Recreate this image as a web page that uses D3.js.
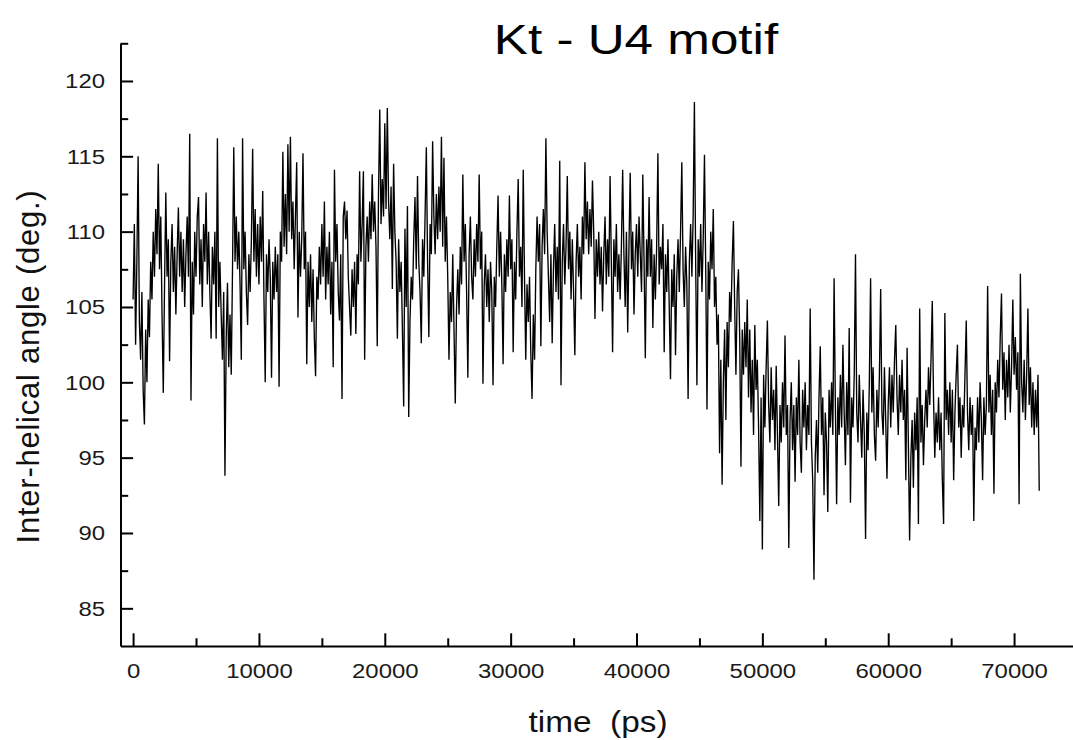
<!DOCTYPE html>
<html>
<head>
<meta charset="utf-8">
<script src="https://cdn.jsdelivr.net/npm/d3@7/dist/d3.min.js"></script>
<style>
  html, body { margin: 0; padding: 0; background: #fff; }
  svg { display: block; background: #fff; }
</style>
</head>
<body>
<svg id="chart" width="1073" height="740"></svg>
<script>
// time between stored frames, ps
const timeStep = 100;

// inter-helical angle (deg.), one row = 1000 ps
// 0 .. 11900 ps
const angle00 = [
    105.5, 110.5, 102.5, 108, 115, 104, 101.5, 106, 99.5, 97.2,
    103.5, 100, 105.5, 103, 108, 105.5, 110, 107, 111.5, 108.5,
    114.5, 107.5, 111, 104.5, 99.3, 106.5, 112.6, 107, 109.5, 101.4,
    108, 110.5, 106, 109, 104.5, 108.5, 111.6, 107, 110, 106,
    109.5, 105, 108.5, 111, 107, 116.5, 98.8, 108, 104.5, 110,
    107, 111, 112.3, 106.5, 109.5, 105, 110.5, 108, 112.6, 106.5,
    110, 106, 102.9, 109, 106.5, 110, 102.9, 116.2, 105, 108,
    104.5, 101.5, 106, 93.8, 103, 106.6, 101, 104.5, 100.5, 107.5,
    115.6, 108, 111, 107.5, 110, 106.5, 101.5, 116.2, 107.5, 110,
    106, 103.8, 108.5, 106, 109.5, 115.5, 108, 111.5, 107, 110.5,
    106.5, 111, 108, 112.7, 105.5, 100, 108.5, 106, 109.5, 107,
    100.3, 108, 105.5, 109, 106, 108.5, 99.7, 110, 108, 115.3
];
// 12000 .. 23900 ps
const angle12 = [
    109, 112.5, 108.5, 115.8, 110, 116.3, 109.5, 112, 107.5, 111,
    114.6, 104.3, 110, 107, 109.5, 115.2, 107.5, 110, 101.2, 108,
    105, 108.5, 104, 107.5, 103, 100.4, 107, 105.5, 109, 106.5,
    110.5, 107, 112, 105.5, 109, 106.5, 110, 104.5, 108, 101,
    114.1, 108, 110.5, 106, 104.1, 108.5, 98.9, 111, 112, 109.5,
    111.4, 107, 105, 103.1, 107.5, 105, 108, 103.2, 108.5, 106.5,
    114, 108, 110.5, 114, 101.5, 109, 111, 108, 112, 109.5,
    113.8, 110, 112, 109, 102.4, 112.5, 118.1, 110.5, 113.5, 111,
    117.2, 111.5, 118.2, 112, 109.5, 113, 106.2, 114.5, 110, 108,
    102.9, 109.5, 106, 108, 103.5, 98.4, 110.2, 105, 111.7, 97.7,
    104, 107, 105.5, 109.5, 112.3, 107.5, 113.7, 108, 106, 102.6,
    109.5, 107, 111, 115.6, 108, 103, 110.5, 108.5, 116, 111
];
// 24000 .. 35900 ps
const angle24 = [
    108.5, 112.5, 109.5, 113, 110, 116.3, 109, 114.9, 108, 111,
    107, 101.5, 106, 104, 108.5, 103.5, 98.6, 105, 107.5, 104.5,
    109, 106.5, 113.8, 108, 110.5, 106, 100.3, 108.5, 111, 107,
    105.5, 109.5, 107, 110.5, 108, 113.8, 107.5, 110, 99.9, 106.5,
    108.5, 105, 107.5, 104, 108, 106, 99.8, 107, 105, 109,
    112.4, 107, 110, 106.5, 101.2, 108.5, 106, 109.5, 107, 112.4,
    107.5, 109.5, 102, 108, 105.5, 110, 113.5, 107, 109, 105,
    114.1, 107, 101.5, 106.5, 104, 107, 102, 98.9, 104.5, 101.5,
    107.5, 111, 108, 110.5, 102.4, 109, 111.5, 108.5, 116.2, 110,
    107, 104, 108.5, 102.6, 107.5, 110.5, 106, 109, 105.5, 114.7,
    99.8, 108, 110.5, 106.5, 109, 113.7, 107.5, 110, 105.5, 109.5,
    106, 101.8, 108, 110.5, 107, 109, 105.5, 111, 108.5, 114.6
];
// 36000 .. 47900 ps
const angle36 = [
    109.5, 112, 108.5, 111.5, 109, 113.4, 110, 104.2, 109.5, 107,
    110, 106.5, 109, 104.7, 108.5, 111, 106.5, 109.5, 107, 113.7,
    108, 102, 109.5, 107, 110.5, 106, 108.5, 105.5, 109, 114.1,
    108.5, 105, 110, 103.3, 109, 113.9, 107.5, 110, 104.5, 108.5,
    110.5, 107, 111, 108.5, 106, 113.8, 108, 101.6, 109.5, 107,
    112.3, 107, 109.5, 103.6, 108.5, 105.5, 109, 115.2, 106.5, 109,
    107.5, 110.5, 102, 108.5, 106, 109.5, 105, 100.2, 107.5, 105,
    108.5, 101.8, 107, 109.5, 106, 110, 114.6, 107.5, 105, 109,
    106.5, 98.9, 108, 110.5, 107, 111, 118.6, 108, 99.8, 109.5,
    107, 110.5, 106, 109.5, 115.1, 107.5, 98.2, 108, 105.5, 110,
    107.5, 111.5, 105, 107, 102.5, 104.5, 95.3, 101.5, 93.2, 100,
    103.5, 97.5, 104, 101, 106, 104, 108, 110.7, 105, 100.5
];
// 48000 .. 59900 ps
const angle48 = [
    106, 107.5, 103, 94.4, 103.5, 100.5, 104, 101, 105.5, 99,
    103.5, 98, 101.5, 96.5, 103.8, 99.5, 101.5, 97, 90.8, 99,
    88.9, 100.5, 97, 101, 104.1, 98.5, 96, 101, 97.5, 99.5,
    95.5, 101.1, 96.5, 91.8, 98.5, 96, 100, 97, 103.1, 96.5,
    98.5, 89, 97.5, 100, 95.5, 98.5, 93.4, 99, 96.5, 101.5,
    96, 94, 99.5, 97, 100, 95.5, 98.5, 96.5, 104.9, 96,
    93.5, 86.9, 95, 97.5, 94, 99, 102.4, 96.5, 99, 92.5,
    98, 96, 91.4, 99.5, 97, 100, 96.5, 106.9, 98.5, 91.9,
    99, 96.5, 100.5, 97, 102.5, 98, 94.5, 100, 96.5, 103.6,
    92, 99, 97, 100.5, 108.5, 98, 96, 100.5, 97.5, 95,
    99.5, 96.5, 89.6, 98, 95.5, 100, 106.9, 98, 101, 96.5,
    94.8, 99.5, 97, 100.5, 106.2, 98, 96.5, 101, 97.5, 93.6
];
// 60000 .. 72000 ps
const angle60 = [
    98.5, 101, 97, 100.5, 98, 101.5, 103.8, 99, 96.5, 100.5,
    98, 101.5, 97.5, 99.5, 93.5, 102.3, 96, 89.5, 95, 97.5,
    93, 98, 95.5, 99, 90.6, 104.9, 96, 98.5, 94.5, 97.5,
    99.5, 97, 101, 98.5, 101.5, 105.4, 99, 95, 98, 96,
    99, 95.5, 98, 93.5, 90.6, 104.6, 97.5, 99.5, 96.5, 100,
    96, 99.5, 93.5, 98, 100.5, 102.5, 97, 99, 95, 98.5,
    97, 100.5, 104.1, 98, 95.5, 99, 96.5, 98.5, 90.8, 97,
    95.5, 99, 96, 100, 97.5, 93.5, 99, 96.5, 98.5, 106.4,
    98, 100.5, 96.5, 99.5, 92.6, 100, 98, 101.5, 99, 103,
    105.9, 99.5, 102, 97.5, 101.5, 99, 102.5, 98, 101, 105.5,
    100.5, 103, 99.5, 102, 91.9, 107.2, 100, 98, 101.5, 97.5,
    100.5, 104.9, 98.5, 101, 97, 100, 96.5, 99.5, 97, 100.5,
    92.8
];

// axis ticks
const xTicksMajor = [0, 10000, 20000, 30000, 40000, 50000, 60000, 70000];
const xTicksMinor = [5000, 15000, 25000, 35000, 45000, 55000, 65000];
const yTicksMajor = [85, 90, 95, 100, 105, 110, 115, 120];
const yTicksMinor = [87.5, 92.5, 97.5, 102.5, 107.5, 112.5, 117.5, 122.5];

const titleText = "Kt - U4 motif";
const xLabelText = "time  (ps)";
const yLabelText = "Inter-helical angle (deg.)";

function drawGraph() {
    const angles = [].concat(angle00, angle12, angle24, angle36, angle48, angle60);
    const times = angles.map((_, i) => i * timeStep);

    const svg = d3.select("svg#chart");
    svg.selectAll("*").remove();

    // область построения
    const area = { left: 120.5, right: 1077, top: 43.3, bottom: 646 };

    const scX = d3.scaleLinear()
        .domain([-1000, 75000])
        .range([area.left, area.right]);
    const scY = d3.scaleLinear()
        .domain([82.5, 122.5])
        .range([area.bottom, area.top]);

    // сама кривая
    const line = d3.line()
        .x((d, i) => scX(times[i]))
        .y(d => scY(d));

    svg.append("path")
        .datum(angles)
        .attr("d", line)
        .style("fill", "none")
        .style("stroke", "#000")
        .style("stroke-width", 1.35)
        .style("stroke-linejoin", "bevel");

    createAxis(svg, scX, scY, area);
    createLabels(svg);
}

function styleAxis(g, fontSize) {
    g.attr("font-family", "'Liberation Sans', Arial, sans-serif")
        .attr("font-size", fontSize);
    g.selectAll("path, line")
        .attr("stroke", "#000")
        .attr("stroke-width", 2);
    g.selectAll("text")
        .attr("fill", "#1a1a1a");
}

function createAxis(svg, scX, scY, area) {
    const sx = 1.14; // tick labels are a bit wide in the original
    const fmt = d3.format("d");

    // вертикальная ось, засечки внутрь
    const gY = svg.append("g")
        .attr("transform", `translate(${area.left},0)`)
        .call(d3.axisLeft(scY)
            .tickValues(yTicksMajor)
            .tickFormat(fmt)
            .tickSize(-12.6)
            .tickSizeOuter(0)
            .tickPadding(15.5));
    styleAxis(gY, 21);
    gY.selectAll("text")
        .attr("x", -15.5 / sx)
        .attr("transform", `scale(${sx},1)`);

    const gYm = svg.append("g")
        .attr("transform", `translate(${area.left},0)`)
        .call(d3.axisLeft(scY)
            .tickValues(yTicksMinor)
            .tickSize(-7.7)
            .tickFormat(""));
    gYm.select(".domain").remove();
    styleAxis(gYm, 21);

    // горизонтальная ось
    const gX = svg.append("g")
        .attr("transform", `translate(0,${area.bottom})`)
        .call(d3.axisBottom(scX)
            .tickValues(xTicksMajor)
            .tickFormat(fmt)
            .tickSize(-12.7)
            .tickSizeOuter(0)
            .tickPadding(17));
    styleAxis(gX, 21);
    gX.selectAll("text")
        .attr("transform", `scale(${sx},1)`);

    const gXm = svg.append("g")
        .attr("transform", `translate(0,${area.bottom})`)
        .call(d3.axisBottom(scX)
            .tickValues(xTicksMinor)
            .tickSize(-7.7)
            .tickFormat(""));
    gXm.select(".domain").remove();
    styleAxis(gXm, 21);
}

function createLabels(svg) {
    const font = "'Liberation Sans', Arial, sans-serif";

    svg.append("text")
        .attr("transform", "translate(636,54) scale(1.19,1)")
        .attr("text-anchor", "middle")
        .attr("font-family", font)
        .attr("font-size", 43)
        .attr("fill", "#000")
        .text(titleText);

    svg.append("text")
        .attr("transform", "translate(598,731.5) scale(1.15,1)")
        .attr("text-anchor", "middle")
        .attr("font-family", font)
        .attr("font-size", 29)
        .attr("fill", "#111")
        .style("white-space", "pre")
        .text(xLabelText);

    svg.append("text")
        .attr("transform", "translate(38.5,366.5) rotate(-90)")
        .attr("text-anchor", "middle")
        .attr("font-family", font)
        .attr("font-size", 31)
        .attr("letter-spacing", 0.75)
        .attr("fill", "#111")
        .text(yLabelText);
}

drawGraph();
</script>
</body>
</html>
